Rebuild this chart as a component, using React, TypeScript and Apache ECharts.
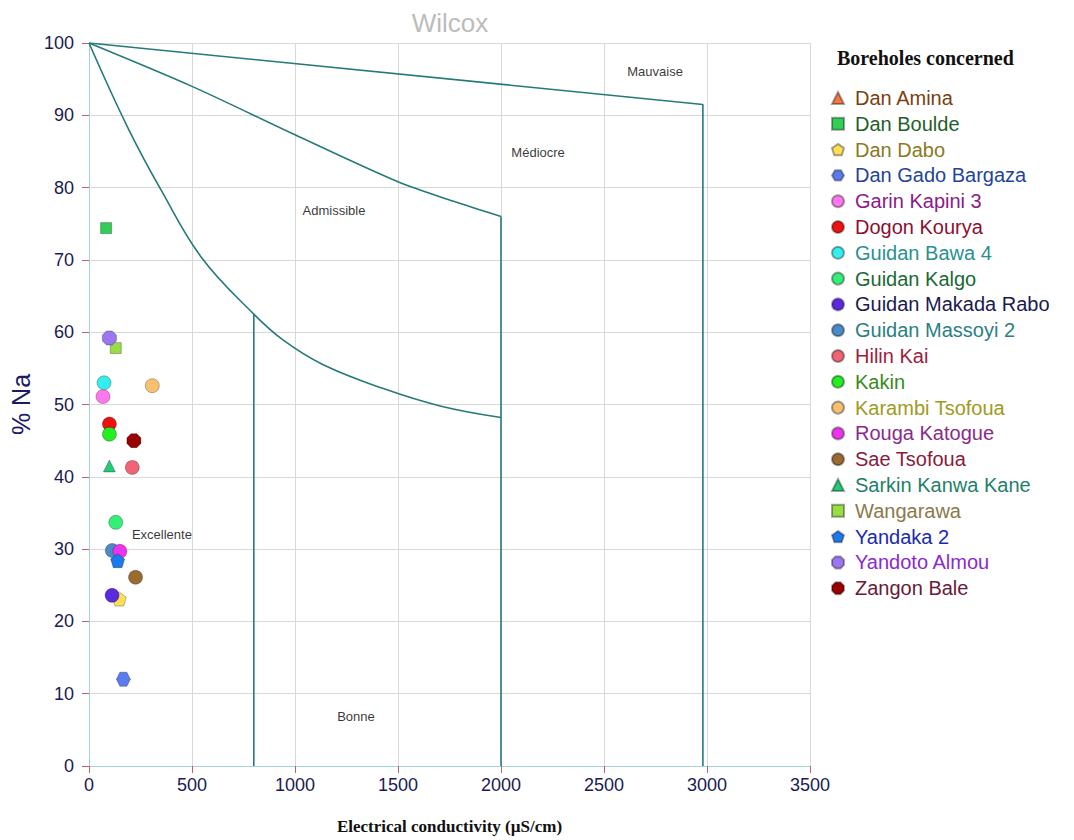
import React, { useEffect, useRef } from "react";
import * as echarts from "echarts";

// ---------- Data ----------
const boreholeNames = [
  "Dan Amina", "Dan Boulde", "Dan Dabo", "Dan Gado Bargaza", "Garin Kapini 3",
  "Dogon Kourya", "Guidan Bawa 4", "Guidan Kalgo", "Guidan Makada Rabo", "Guidan Massoyi 2",
  "Hilin Kai", "Kakin", "Karambi Tsofoua", "Rouga Katogue", "Sae Tsofoua",
  "Sarkin Kanwa Kane", "Wangarawa", "Yandaka 2", "Yandoto Almou", "Zangon Bale",
];
// electrical conductivity (µS/cm)
const conductivity: (number | null)[] = [
  null, 83, 147, 167, 68,
  99, 73, 130, 112, 113,
  210, 99, 307, 150, 226,
  99, 130, 139, 99, 218,
];
// % Na
const sodiumPct: (number | null)[] = [
  null, 74.4, 23.1, 12.0, 51.1,
  47.3, 53.0, 33.7, 23.6, 29.8,
  41.3, 45.9, 52.6, 29.7, 26.1,
  41.5, 57.8, 28.4, 59.2, 45.0,
];
const markerColors = [
  "#f07a40", "#33cc55", "#ffe055", "#5b7cf0", "#ff77ee",
  "#ee1111", "#33eeee", "#33ee77", "#5a2ae0", "#4a8ac8",
  "#f06474", "#22ee22", "#f8c070", "#ee33ee", "#9a6a30",
  "#22cc77", "#99dd44", "#1a7aee", "#9a77f0", "#990000",
];
const labelColors = [
  "#7a3f10", "#1f5f2a", "#8a7a1e", "#23449a", "#8b1a8b",
  "#8b1030", "#2a9090", "#1a6a32", "#1a1a50", "#2a8080",
  "#a01c3c", "#3a8a1a", "#a09a20", "#8a2a8a", "#8b1a3a",
  "#1f7f6a", "#8a7a4a", "#1a2ab0", "#8a2ad0", "#6a1a3a",
];
const PENT = "path://M0,-10 L9.51,-3.09 L5.88,8.09 L-5.88,8.09 L-9.51,-3.09 Z";
const HEX = "path://M-10,0 L-5,-8.66 L5,-8.66 L10,0 L5,8.66 L-5,8.66 Z";
const OCT = "path://M-4.14,-10 L4.14,-10 L10,-4.14 L10,4.14 L4.14,10 L-4.14,10 L-10,4.14 L-10,-4.14 Z";
const markerShapes = [
  "triangle", "rect", PENT, HEX, "circle",
  "circle", "circle", "circle", "circle", "circle",
  "circle", "circle", "circle", "circle", "circle",
  "triangle", "rect", PENT, OCT, OCT,
];

// Wilcox class boundaries
const mauvaiseLine = [[0, 100], [2980, 91.5], [2980, 0]];
const mediocreCurve = [[0, 100], [500, 94], [1000, 87.3], [1500, 80.8], [1770, 78.1], [2000, 76]];
const mediocreDrop = [[2000, 76], [2000, 0]];
const admissibleCurve = [[0, 100], [190, 88.2], [353, 79.5], [547, 70.3], [800, 62.5], [943, 58.9], [1137, 55.5], [1429, 52.2], [1704, 49.8], [2000, 48.2]];
const bonneDrop = [[800, 62.5], [800, 0]];

const zoneNames = ["Mauvaise", "Médiocre", "Admissible", "Excellente", "Bonne"];
const zoneX = [2748, 2180, 1189, 354, 1296];
const zoneY = [96, 84.9, 76.9, 32, 6.9];

const xTicks = { min: 0, max: 3500, interval: 500 };
const yTicks = { min: 0, max: 100, interval: 10 };

export default function App() {
  const ref = useRef<HTMLDivElement>(null);
  useEffect(() => {
    if (!ref.current) return;
    const chart = echarts.init(ref.current, undefined, { renderer: "svg" });
    const font = "Arial, 'Liberation Sans', sans-serif";
    const lineColor = "#257a7a";

    const pointSeries = boreholeNames.map((name, i) => {
      const shape = markerShapes[i];
      const size = shape === "rect" ? 11 : shape === "triangle" ? 12 : 14;
      const data = conductivity[i] != null && sodiumPct[i] != null ? [[conductivity[i], sodiumPct[i]]] : [];
      return {
        name,
        type: "scatter",
        symbol: shape,
        symbolSize: size,
        data,
        itemStyle: { color: markerColors[i], borderColor: "rgba(0,0,0,0.35)", borderWidth: 0.8, opacity: 1 },
        z: 5,
      };
    });

    const mkLine = (data: number[][], smooth: number | boolean = false) => ({
      type: "line",
      data,
      smooth,
      showSymbol: false,
      symbol: "none",
      lineStyle: { color: lineColor, width: 1.6 },
      silent: true,
      z: 3,
    });

    chart.setOption({
      animation: false,
      backgroundColor: "#ffffff",
      grid: { left: 89, right: 264, top: 43, bottom: 74, containLabel: false },
      xAxis: {
        type: "value",
        min: xTicks.min,
        max: xTicks.max,
        interval: xTicks.interval,
        name: "Electrical conductivity (µS/cm)",
        nameLocation: "middle",
        nameGap: 52,
        nameTextStyle: { fontFamily: "'Liberation Serif', 'DejaVu Serif', serif", fontWeight: "bold", fontSize: 17, color: "#111" },
        axisLine: { show: true, lineStyle: { color: "#9fd4d8", width: 1 } },
        axisTick: { show: true, length: 7, lineStyle: { color: "#c0606a" } },
        axisLabel: { color: "#1a1a55", fontSize: 18, fontFamily: font, margin: 10, formatter: (v: number) => String(v) },
        splitLine: { show: true, lineStyle: { color: "#d8d8d8" } },
      },
      yAxis: {
        type: "value",
        min: yTicks.min,
        max: yTicks.max,
        interval: yTicks.interval,
        name: "% Na",
        nameLocation: "middle",
        nameGap: 50,
        nameRotate: 90,
        nameTextStyle: { fontFamily: font, fontSize: 25, color: "#1a1a66" },
        axisLine: { show: true, lineStyle: { color: "#9fd4d8", width: 1 } },
        axisTick: { show: true, length: 7, lineStyle: { color: "#c0606a" } },
        axisLabel: { color: "#1a1a55", fontSize: 18, fontFamily: font, margin: 15, formatter: (v: number) => String(v) },
        splitLine: { show: true, lineStyle: { color: "#d8d8d8" } },
      },
      legend: {
        orient: "vertical",
        left: 826,
        top: 83,
        itemWidth: 12,
        itemHeight: 12,
        itemGap: 5.8,
        data: boreholeNames.map((n, i) => ({
          name: n,
          textStyle: { color: labelColors[i] },
        })),
        textStyle: { fontFamily: font, fontSize: 20, lineHeight: 20, padding: [0, 0, 0, 6] },
        selectedMode: false,
      },
      graphic: [
        {
          type: "text",
          x: 450,
          y: 23,
          style: { text: "Wilcox", fill: "#bcbcbc", font: `26px ${font}`, textAlign: "center", textVerticalAlign: "middle" },
        },
        {
          type: "text",
          x: 837,
          y: 58,
          style: { text: "Boreholes concerned", fill: "#111", font: "bold 20px 'Liberation Serif', serif", textAlign: "left", textVerticalAlign: "middle" },
        },
      ],
      series: [
        mkLine(mauvaiseLine),
        mkLine(mediocreCurve, 0.3),
        mkLine(mediocreDrop),
        mkLine(admissibleCurve, 0.4),
        mkLine(bonneDrop),
        {
          type: "scatter",
          symbolSize: 0,
          silent: true,
          data: zoneNames.map((n, i) => ({ name: n, value: [zoneX[i], zoneY[i]] })),
          label: {
            show: true,
            position: "inside",
            formatter: "{b}",
            color: "#000",
            fontSize: 13,
            fontFamily: font,
          },
          z: 4,
        },
        ...pointSeries,
      ],
    });
    return () => chart.dispose();
  }, []);
  return <div ref={ref} style={{ position: "fixed", left: 0, top: 0, width: 1074, height: 840 }} />;
}
